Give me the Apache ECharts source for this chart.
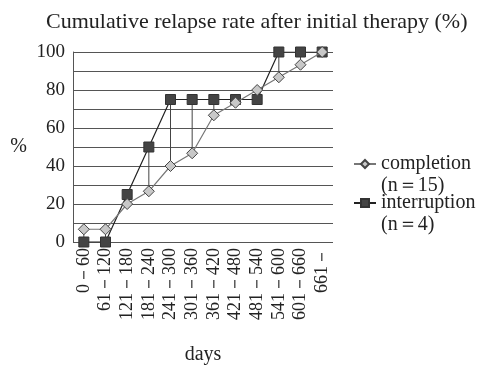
<!DOCTYPE html>
<html><head><meta charset="utf-8">
<script src="https://cdn.jsdelivr.net/npm/echarts@6/dist/echarts.min.js"></script>
<style>html,body{margin:0;padding:0;background:#fff}#c{width:481px;height:365px}</style>
</head><body><div id="c"></div>
<script>
var categories = ['0－60','61－120','121－180','181－240','241－300','301－360','361－420','421－480','481－540','541－600','601－660','661－'];
var completion = [6.7, 6.7, 20, 26.7, 40, 46.7, 66.7, 73.3, 80, 86.7, 93.3, 100];
var interruption = [0, 0, 25, 50, 75, 75, 75, 75, 75, 100, 100, 100];
var yTicks = [0, 20, 40, 60, 80, 100];
var seriesNames = ['completion', 'interruption'];
var seriesSizes = ['(n＝15)', '(n＝4)'];

var FONT = 'Liberation Serif';
var chart = echarts.init(document.getElementById('c'));
var hl = categories.map(function (c, i) { return [i, completion[i], interruption[i]]; });
chart.setOption({
  animation: false,
  backgroundColor: '#fff',
  title: {
    text: 'Cumulative relapse rate after initial therapy (%)',
    left: 41, top: 6,
    textStyle: { fontFamily: FONT, fontSize: 22, fontWeight: 'normal', color: '#222' }
  },
  grid: { left: 73, right: 148, top: 52, bottom: 123, containLabel: false, outerBoundsMode: 'none' },
  legend: {
    left: 353, top: 154, padding: 0, orient: 'vertical', itemGap: 19,
    itemWidth: 22, itemHeight: 10,
    data: seriesNames,
    textStyle: { fontFamily: FONT, fontSize: 20, color: '#222', lineHeight: 20 }
  },
  graphic: [
    { type: 'text', left: 381, top: 176, style: { text: seriesSizes[0], font: '20px "Liberation Serif"', fill: '#222' } },
    { type: 'text', left: 381, top: 215, style: { text: seriesSizes[1], font: '20px "Liberation Serif"', fill: '#222' } }
  ],
  xAxis: {
    type: 'category', data: categories, boundaryGap: true,
    name: 'days', nameLocation: 'middle', nameGap: 103,
    nameTextStyle: { fontFamily: FONT, fontSize: 20, color: '#222' },
    axisLine: { show: false }, axisTick: { show: false },
    axisLabel: { rotate: 90, interval: 0, margin: 6, fontFamily: FONT, fontSize: 18, color: '#222' }
  },
  yAxis: {
    type: 'value', min: 0, max: 100, interval: 10,
    name: '%', nameLocation: 'middle', nameGap: 46, nameRotate: 0,
    nameTextStyle: { fontFamily: FONT, fontSize: 20, color: '#222' },
    axisLine: { show: true, lineStyle: { color: '#555', width: 1 } },
    axisTick: { show: false },
    axisLabel: { fontFamily: FONT, fontSize: 19, color: '#222', margin: 8,
      formatter: function (v) { return yTicks.indexOf(v) >= 0 ? String(v) : ''; } },
    splitLine: { show: true, lineStyle: { color: '#555', width: 1 } }
  },
  series: [
    {
      name: 'hilo', type: 'custom', data: hl, z: 1, silent: true,
      renderItem: function (params, api) {
        var a = api.coord([api.value(0), api.value(1)]);
        var b = api.coord([api.value(0), api.value(2)]);
        return { type: 'line', shape: { x1: a[0], y1: a[1], x2: b[0], y2: b[1] }, style: { stroke: '#444', lineWidth: 1 } };
      }
    },
    {
      name: seriesNames[0], type: 'line', data: completion, z: 3,
      symbol: 'diamond', symbolSize: 11,
      lineStyle: { color: '#777', width: 1.2 },
      itemStyle: { color: '#c8c8c8', borderColor: '#444', borderWidth: 1 }
    },
    {
      name: seriesNames[1], type: 'line', data: interruption, z: 2,
      symbol: 'rect', symbolSize: 10,
      lineStyle: { color: '#222', width: 1.2 },
      itemStyle: { color: '#444', borderColor: '#333', borderWidth: 1 }
    }
  ]
});
</script></body></html>
